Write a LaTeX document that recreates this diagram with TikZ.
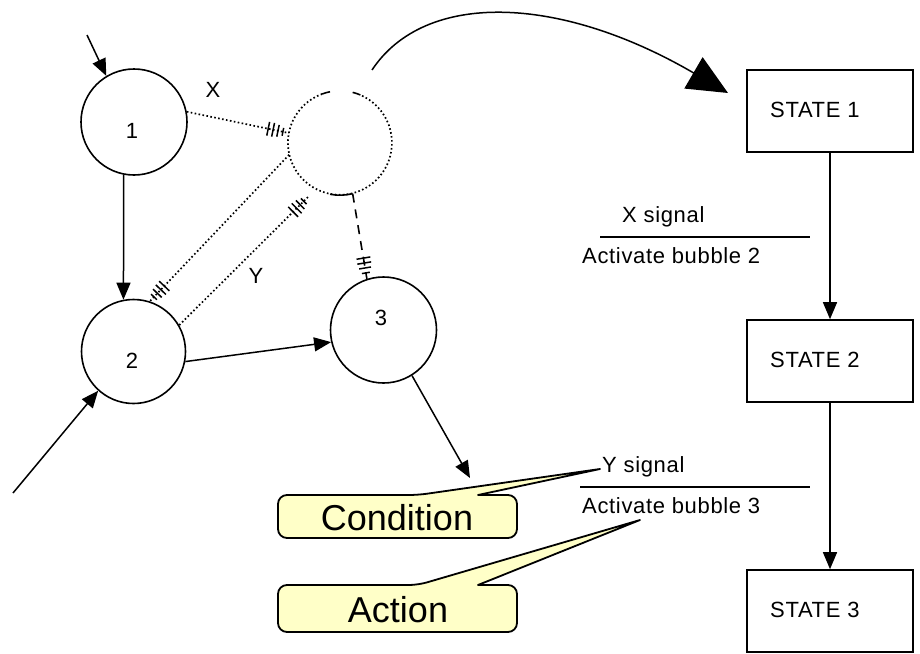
\documentclass[tikz,border=0pt]{standalone}
\usepackage{fontspec}
\setmainfont{Liberation Sans}
\newfontfamily\labelfont[LetterSpace=3]{Liberation Sans}
\usetikzlibrary{arrows.meta,decorations.markings,calc}

\definecolor{calloutfill}{HTML}{FFFFC8}

\tikzset{
  bubble/.style={circle,draw,line width=1.6pt,inner sep=0pt},
  statebox/.style={draw,line width=1.6pt,minimum width=166pt,minimum height=82pt,inner sep=0pt},
  smalltext/.style={font=\labelfont\fontsize{22}{26}\selectfont,inner sep=0pt},
  bigtext/.style={font=\fontsize{36}{40}\selectfont,inner sep=0pt},
  flow/.style={line width=1.5pt,-{Triangle[length=17pt,width=14pt]}},
  sigline/.style={line width=1.7pt,dash pattern=on 1.6pt off 2.4pt},
  dashline/.style={line width=1.6pt,dash pattern=on 9pt off 7pt},
  hatch/.style={postaction=decorate,decoration={markings,
    mark=at position -21pt with {\draw[solid,line width=1.5pt] (0,-7pt)--(0,7pt);},
    mark=at position -16pt with {\draw[solid,line width=1.5pt] (0,-7pt)--(0,7pt);},
    mark=at position -11pt with {\draw[solid,line width=1.5pt] (0,-6pt)--(0,6pt);},
    mark=at position -6pt with {\draw[solid,line width=1.5pt] (0,-4pt)--(0,4pt);}}},
  callout/.style={draw,line width=1.8pt,fill=calloutfill,line join=round},
  underline/.style={line width=1.5pt}
}

\begin{document}
\begin{tikzpicture}[x=1pt,y=-1pt]
\fill[white] (0,0) rectangle (920,653);
\useasboundingbox (0,0) rectangle (920,653);

% bubbles
\node[bubble,minimum size=106pt] (c1) at (134,122) {};
\node[bubble,minimum size=104pt] (c2) at (133.5,351.5) {};
\node[bubble,minimum size=106pt] (c3) at (383.5,330) {};
\node[circle,minimum size=104pt,inner sep=0pt] (dc) at (340,143) {};

\node[smalltext,anchor=base] (l1) at (132,138) {1};
\node[smalltext,anchor=base] (l2) at (132,368) {2};
\node[smalltext,anchor=base] (l3) at (381,325) {3};
\node[smalltext,anchor=base] (lx) at (213,97) {X};
\node[smalltext,anchor=base] (ly) at (256,283) {Y};

% the dotted (inactive) bubble
\draw[sigline] (dc.110) arc[start angle=110,end angle=427,radius=52pt];
\draw[line width=1.6pt] (dc.101) arc[start angle=101,end angle=110,radius=52pt];
\draw[line width=1.6pt] (dc.67) arc[start angle=67,end angle=76,radius=52pt];
\draw[line width=1.6pt] (dc.259) arc[start angle=259,end angle=284,radius=52pt];

% free ends
\coordinate (in1) at (87,35);
\coordinate (in2) at (13,493);
\coordinate (out3) at (470,478);
\coordinate (ytip) at (308,197);
\coordinate (arcstart) at (372,70);
\coordinate (arcend) at (728,93);

% solid flows
\draw[flow] (in1) -- (c1.121);
\draw[flow] (c1.259) -- (c2.101);
\draw[flow] (in2) -- (c2.228);
\draw[flow] (c2.-11) -- (c3.193);
\draw[flow] (c3.-58) -- (out3);

% signal flows
\draw[sigline,hatch] (c1.11) -- (dc.169);
\draw[sigline,hatch] (dc.193) -- (c2.72);
\draw[sigline,hatch] (c2.30) -- (ytip);
\draw[dashline,hatch] (dc.284) -- (c3.108);

% big transition arrow
\draw[line width=1.5pt,-{Triangle[length=40pt,width=36pt]}]
  (arcstart) .. controls (425,-10) and (560,-5) .. (arcend);

% states
\node[statebox] (s1) at (830,111) {};
\node[statebox] (s2) at (830,361) {};
\node[statebox] (s3) at (830,611) {};
\node[smalltext,anchor=base west] (t1) at (770,117) {STATE 1};
\node[smalltext,anchor=base west] (t2) at (770,367) {STATE 2};
\node[smalltext,anchor=base west] (t3) at (770,617) {STATE 3};
\draw[flow] (s1.south) -- (s2.north);
\draw[flow] (s2.south) -- (s3.north);

% transition labels
\node[smalltext,anchor=base west] (xs) at (622,222) {X signal};
\coordinate (xl1) at (600,237);
\coordinate (xl2) at (810,237);
\draw[underline] (xl1) -- (xl2);
\node[smalltext,anchor=base west] (xa) at (582,263) {Activate bubble 2};

\node[smalltext,anchor=base west] (ys) at (602,472) {Y signal};
\coordinate (yl1) at (580,487);
\coordinate (yl2) at (810,487);
\draw[underline] (yl1) -- (yl2);
\node[smalltext,anchor=base west] (ya) at (582,513) {Activate bubble 3};

% callouts
\coordinate (condtip) at (600,469);
\coordinate (acttip) at (640,520);
\filldraw[callout] (418,495) -- (condtip) -- (478,495) [rounded corners=9pt]
  -- (517,495) -- (517,538) -- (278,538) -- (278,495) -- cycle;
\node[bigtext,anchor=base] (cond) at (397,530) {Condition};

\filldraw[callout] (418,585) -- (acttip) -- (478,585) [rounded corners=9pt]
  -- (517,585) -- (517,632) -- (278,632) -- (278,585) -- cycle;
\node[bigtext,anchor=base] (act) at (398,622) {Action};
\end{tikzpicture}
\end{document}
